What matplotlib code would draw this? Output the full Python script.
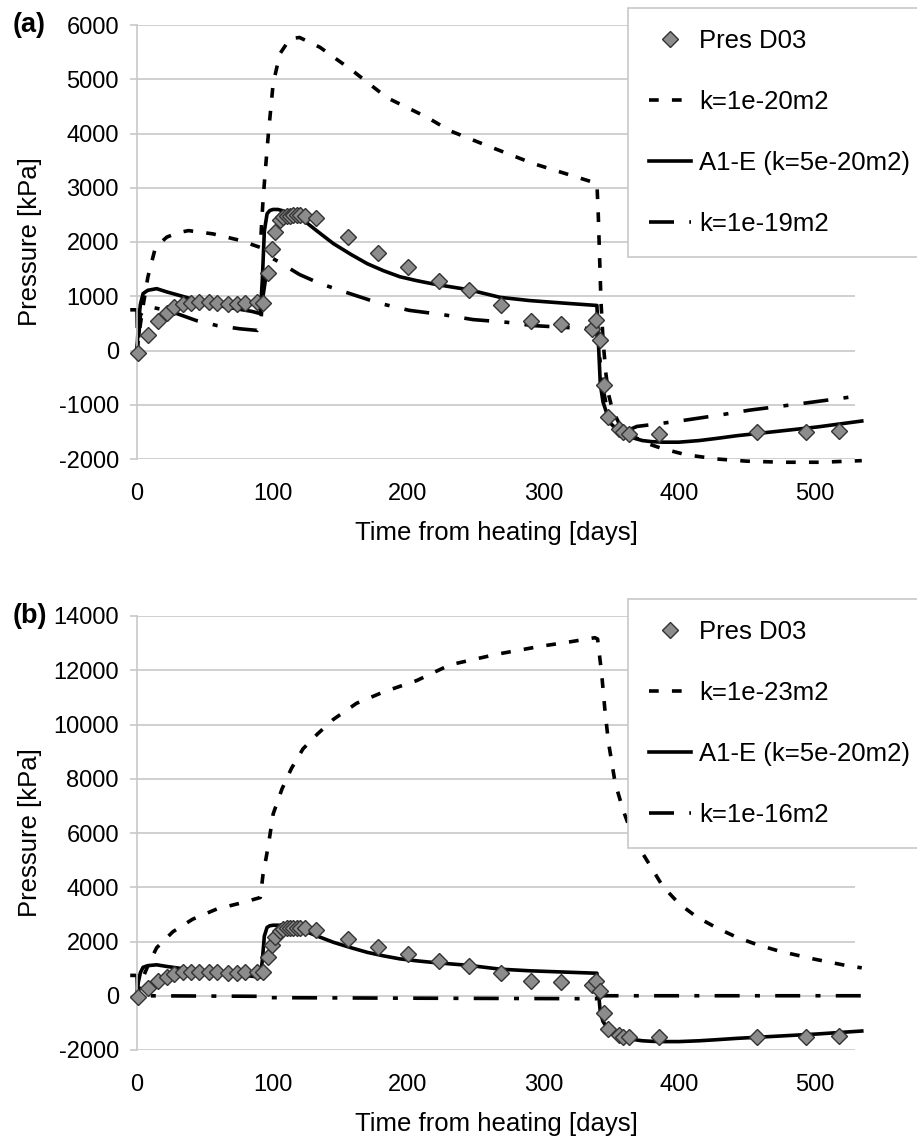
import matplotlib
matplotlib.use("Agg")
import matplotlib.pyplot as plt

plt.rcParams['font.family'] = ['Liberation Sans', 'DejaVu Sans']
plt.rcParams['lines.scale_dashes'] = False
plt.rcParams['axes.unicode_minus'] = False

# measured pore pressure at D03
obs_day = [1, 8, 15.5, 22, 27, 34, 40, 46, 53, 59, 67, 74, 80, 88.5, 93,
           97, 100, 102, 105.5, 108, 110.5, 113, 115.5, 118, 120.5, 124, 132,
           156, 178, 200, 223, 245, 268.5, 291, 313, 336, 339, 342, 344.5,
           348, 356, 359, 363, 385, 458, 494, 518]
obs_p = [-40, 290, 550, 700, 810, 860, 880, 890, 890, 880, 850, 850, 870,
         890, 880, 1420, 1880, 2180, 2400, 2460, 2480, 2480, 2490, 2490, 2490,
         2480, 2440, 2090, 1790, 1530, 1280, 1110, 830, 535, 495, 400, 560,
         190, -630, -1230, -1440, -1510, -1530, -1530, -1510, -1510, -1490]

# model A1-E (k=5e-20 m2)
a1_day = [0, 1, 2.5, 4.5, 8, 14.5, 22, 32, 46, 60, 71, 85, 91, 92.5, 94, 96,
          98, 100.5, 104, 107, 113, 120, 132, 145, 158, 170, 182, 194, 206,
          218, 230, 245, 268, 290, 317, 339.5, 340.5, 342, 344, 346, 349, 354,
          359, 366, 373, 380, 388, 400, 415, 428, 443, 458, 480, 502, 520, 535]
a1_p = [0, 500, 850, 1050, 1110, 1140, 1080, 1010, 910, 830, 780, 720, 680,
        1300, 2200, 2520, 2580, 2600, 2600, 2580, 2530, 2460, 2220, 1970, 1770,
        1600, 1470, 1360, 1290, 1230, 1180, 1120, 980, 920, 870, 830, 200, -620,
        -950, -1100, -1330, -1450, -1530, -1610, -1660, -1680, -1690, -1690,
        -1660, -1620, -1570, -1530, -1470, -1410, -1350, -1300]

# k=1e-20 m2
d20_day = [0, 2, 5, 8, 13, 18, 22, 30, 38, 56, 76, 91, 93, 95, 97, 100.5,
           105.5, 113, 120, 135, 159, 184.5, 214, 231, 255, 292, 339.5, 340.5,
           341.5, 342.5, 344, 346, 348, 351, 357, 364, 375, 388, 405, 428, 450,
           477, 505, 535]
d20_p = [0, 400, 900, 1350, 1840, 2000, 2090, 2170, 2210, 2150, 2030, 1900,
         2760, 3400, 4000, 4920, 5470, 5750, 5770, 5590, 5160, 4660, 4300, 4050,
         3810, 3450, 3080, 2500, 1700, 900, 200, -400, -800, -1100, -1400,
         -1550, -1700, -1810, -1920, -2000, -2040, -2060, -2060, -2030]

# k=1e-19 m2
d19_day = [-5, 0, 0.5, 2.5, 6, 12, 20, 29.5, 44, 59, 76, 89, 91, 93, 96, 100,
           105.5, 120, 135, 157, 179, 201, 226, 248, 273, 292, 320, 339, 341,
           344, 348, 354, 362, 369, 385, 403, 430, 452, 490, 526, 535]
d19_p = [750, 750, 0, 650, 780, 790, 750, 680, 550, 460, 400, 370, 420, 1000,
         1500, 1700, 1620, 1400, 1235, 1050, 870, 740, 660, 570, 520, 460, 420,
         400, 0, -700, -1200, -1400, -1475, -1400, -1350, -1290, -1190, -1100,
         -980, -860, -830]

# k=1e-23 m2
d23_day = [0, 3, 8, 14.5, 26.5, 41, 59, 76, 91, 93, 95, 97, 100.5, 104, 107,
           114, 122.5, 133, 145, 162, 182, 206.5, 231, 265.5, 297.5, 320, 338,
           340, 343, 345.5, 348, 353, 359, 365, 371, 380, 388, 400, 413, 428,
           443, 458, 474.5, 500, 526, 535]
d23_p = [0, 500, 1100, 1770, 2360, 2820, 3200, 3410, 3620, 4460, 5000, 5560,
         6700, 7200, 7620, 8380, 9100, 9640, 10190, 10780, 11200, 11620, 12200,
         12590, 12880, 13050, 13200, 13150, 11870, 10480, 9350, 7830, 6820,
         6000, 5430, 4700, 4040, 3400, 2910, 2500, 2150, 1880, 1640, 1350,
         1090, 1030]

# k=1e-16 m2
d16_day = [-5, 0, 0.5, 90, 95, 200, 339, 341, 535]
d16_p = [750, 750, 0, -20, -70, -90, -110, 0, 0]

x_ticks = [0, 100, 200, 300, 400, 500]

FS_TICK = 17
FS = 18.5
DOT = (0, (7, 9.5))
DASHDOT = (0, (18, 11, 3.6, 11))
LW = 2.6


def panel(ax, coarse, fine, ticks, ylim):
    ax.plot(fine[0], fine[1], color='black', lw=LW, ls=DOT, clip_on=False,
            label=fine[2])
    ax.plot(a1_day, a1_p, color='black', lw=LW, ls='-', clip_on=False,
            label='A1-E (k=5e-20m2)')
    ax.plot(coarse[0], coarse[1], color='black', lw=LW, ls=DASHDOT,
            clip_on=False, label=coarse[2])
    ax.plot(obs_day, obs_p, ls='none', marker='D', ms=8, mfc='#8c8c8c',
            mec='#333333', mew=1.0, clip_on=False, zorder=5, label='Pres D03')

    ax.set_xlim(0, 530)
    ax.set_ylim(*ylim)
    ax.set_yticks(ticks)
    ax.set_xticks(x_ticks)
    ax.grid(axis='y', color='#c8c8c8', lw=1.2)
    ax.set_axisbelow(True)
    for s in ['top', 'right', 'bottom']:
        ax.spines[s].set_visible(False)
    ax.spines['left'].set_color('#c8c8c8')
    ax.spines['left'].set_linewidth(1.2)
    ax.tick_params(axis='y', length=5, width=1.2, color='#c8c8c8', pad=8,
                   labelsize=FS_TICK)
    ax.tick_params(axis='x', length=0, pad=17, labelsize=FS_TICK)
    ax.set_ylabel('Pressure [kPa]', fontsize=FS)
    ax.yaxis.set_label_coords(-0.132, 0.5)
    ax.set_xlabel('Time from heating [days]', fontsize=FS)
    ax.xaxis.set_label_coords(0.5, -0.142)

    h, l = ax.get_legend_handles_labels()
    order = [3, 0, 1, 2]
    return [h[i] for i in order], [l[i] for i in order]


def add_legend(fig, h, l, top_px):
    leg = fig.legend(h, l, loc='upper left',
                     bbox_to_anchor=(628 / 917, 1 - top_px / 1140),
                     fontsize=FS, frameon=True, fancybox=False, framealpha=1,
                     edgecolor='#c8c8c8', borderpad=0.8, labelspacing=1.45,
                     handlelength=1.67, handletextpad=0.31, borderaxespad=0)
    leg.get_frame().set_linewidth(1.2)


fig = plt.figure(figsize=(9.17, 11.4), dpi=100)
ax1 = fig.add_axes([137 / 917, 1 - 459 / 1140, 718 / 917, 434 / 1140])
ax2 = fig.add_axes([137 / 917, 1 - 1050 / 1140, 718 / 917, 434 / 1140])

h, l = panel(ax1, (d19_day, d19_p, 'k=1e-19m2'), (d20_day, d20_p, 'k=1e-20m2'),
             range(-2000, 6001, 1000), (-2000, 6000))
add_legend(fig, h, l, 8)

h, l = panel(ax2, (d16_day, d16_p, 'k=1e-16m2'), (d23_day, d23_p, 'k=1e-23m2'),
             range(-2000, 14001, 2000), (-2000, 14000))
add_legend(fig, h, l, 599)

fig.text(13 / 917, 1 - 25 / 1140, '(a)', fontsize=19.5, fontweight='bold',
         va='center', ha='left')
fig.text(13 / 917, 1 - 616 / 1140, '(b)', fontsize=19.5, fontweight='bold',
         va='center', ha='left')

fig.savefig('out.png', dpi=100)
